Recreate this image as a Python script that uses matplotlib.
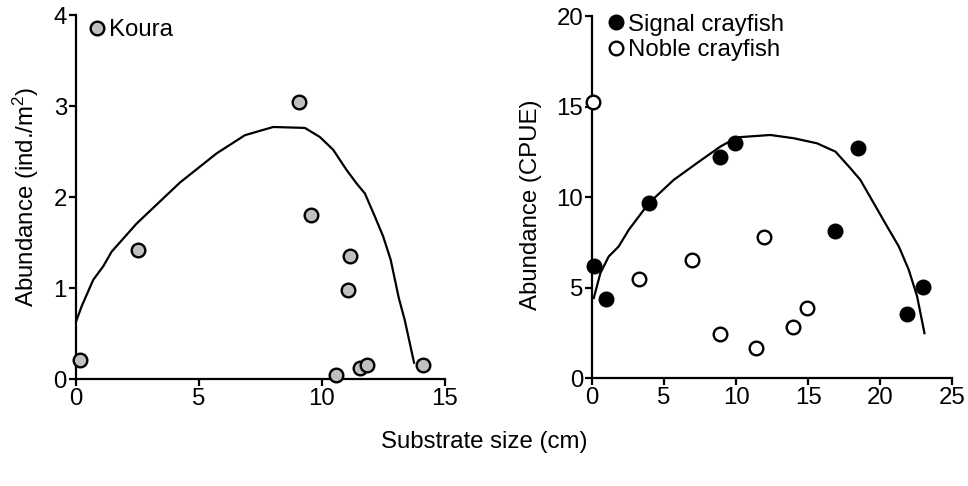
import matplotlib
matplotlib.use("Agg")
import matplotlib.pyplot as plt

plt.rcParams['font.family'] = ['Liberation Sans', 'DejaVu Sans']
plt.rcParams['mathtext.fontset'] = 'custom'
plt.rcParams['mathtext.rm'] = 'Liberation Sans'
plt.rcParams['mathtext.it'] = 'Liberation Sans:italic'

# Left panel: Koura
koura_x = [0.16, 2.53, 9.08, 9.55, 11.14, 11.08, 10.57, 11.57, 11.82, 14.12]
koura_y = [0.21, 1.42, 3.04, 1.80, 1.35, 0.98, 0.05, 0.12, 0.15, 0.15]
koura_fit_x = [0.0, 0.23, 0.70, 1.11, 1.45, 2.47, 4.23, 5.72, 6.87, 8.02, 9.31, 9.92,
               10.46, 11.0, 11.41, 11.75, 12.15, 12.49, 12.8, 13.13, 13.37, 13.75]
koura_fit_y = [0.63, 0.80, 1.09, 1.24, 1.40, 1.71, 2.16, 2.48, 2.68, 2.77, 2.76, 2.66,
               2.52, 2.30, 2.15, 2.04, 1.79, 1.57, 1.31, 0.89, 0.65, 0.18]

# Right panel: Signal and Noble crayfish
signal_x = [0.16, 1.0, 3.94, 8.91, 9.95, 16.9, 18.47, 21.9, 22.96]
signal_y = [6.2, 4.36, 9.70, 12.24, 13.0, 8.15, 12.7, 3.53, 5.06]
noble_x = [0.07, 3.24, 6.94, 11.97, 8.91, 11.41, 13.96, 14.93]
noble_y = [15.27, 5.46, 6.50, 7.78, 2.43, 1.64, 2.80, 3.90]
cray_fit_x = [0.12, 0.58, 1.16, 1.85, 2.55, 3.94, 5.67, 7.52, 8.91, 10.07, 12.38, 14.0,
              15.62, 16.9, 17.94, 18.63, 19.56, 20.49, 21.3, 21.99, 22.57, 23.08]
cray_fit_y = [4.42, 5.8, 6.72, 7.27, 8.19, 9.66, 10.95, 12.01, 12.79, 13.3, 13.43, 13.25,
              12.97, 12.51, 11.59, 10.95, 9.66, 8.37, 7.27, 5.98, 4.51, 2.48]

left_xticks = [0, 5, 10, 15]
left_yticks = [0, 1, 2, 3, 4]
right_xticks = [0, 5, 10, 15, 20, 25]
right_yticks = [0, 5, 10, 15, 20]

FS = 17.3
fig = plt.figure(figsize=(9.68, 4.86), dpi=100)
ax1 = fig.add_axes([0.0785, 0.220, 0.381, 0.749])
ax2 = fig.add_axes([0.6116, 0.222, 0.372, 0.745])

ms = 9.8
mew = 1.7

def style(ax, xt, yt):
    for s in ['top', 'right']:
        ax.spines[s].set_visible(False)
    for s in ['left', 'bottom']:
        ax.spines[s].set_linewidth(1.6)
    ax.set_xticks(xt)
    ax.set_yticks(yt)
    ax.set_xlim(xt[0], xt[-1])
    ax.set_ylim(yt[0], yt[-1])
    ax.tick_params(direction='out', length=5, width=1.6, labelsize=FS, pad=1.5)
    for sp in ax.spines.values():
        sp.set_zorder(0.5)

ax1.plot(koura_fit_x, koura_fit_y, color='black', lw=1.6, zorder=2)
ax1.plot(koura_x, koura_y, 'o', ms=ms, mfc='#c0c0c0', mec='black', mew=mew,
         clip_on=False, zorder=3, label='Koura')
style(ax1, left_xticks, left_yticks)
ax1.set_ylabel('Abundance (ind./m$^{2}$)', fontsize=FS, labelpad=9)
ax1.legend(loc='upper left', bbox_to_anchor=(-0.014, 1.028), frameon=False,
           fontsize=FS, handletextpad=0.0, borderaxespad=0.2, handlelength=1.0)

ax2.plot(cray_fit_x, cray_fit_y, color='black', lw=1.6, zorder=2)
ax2.plot(signal_x, signal_y, 'o', ms=ms, mfc='black', mec='black', mew=mew,
         clip_on=False, zorder=3, label='Signal crayfish')
ax2.plot(noble_x, noble_y, 'o', ms=ms, mfc='white', mec='black', mew=mew,
         clip_on=False, zorder=3, label='Noble crayfish')
style(ax2, right_xticks, right_yticks)
ax2.set_ylabel('Abundance (CPUE)', fontsize=FS, labelpad=10)
ax2.yaxis.label.set_y(0.48)
ax2.legend(loc='upper left', bbox_to_anchor=(-0.007, 1.046), frameon=False,
           fontsize=FS, handletextpad=0.0, borderaxespad=0.2, handlelength=1.0,
           labelspacing=0.15)

fig.text(0.5, 0.09, 'Substrate size (cm)', ha='center', va='center', fontsize=FS)

fig.savefig('out.png', dpi=100)
